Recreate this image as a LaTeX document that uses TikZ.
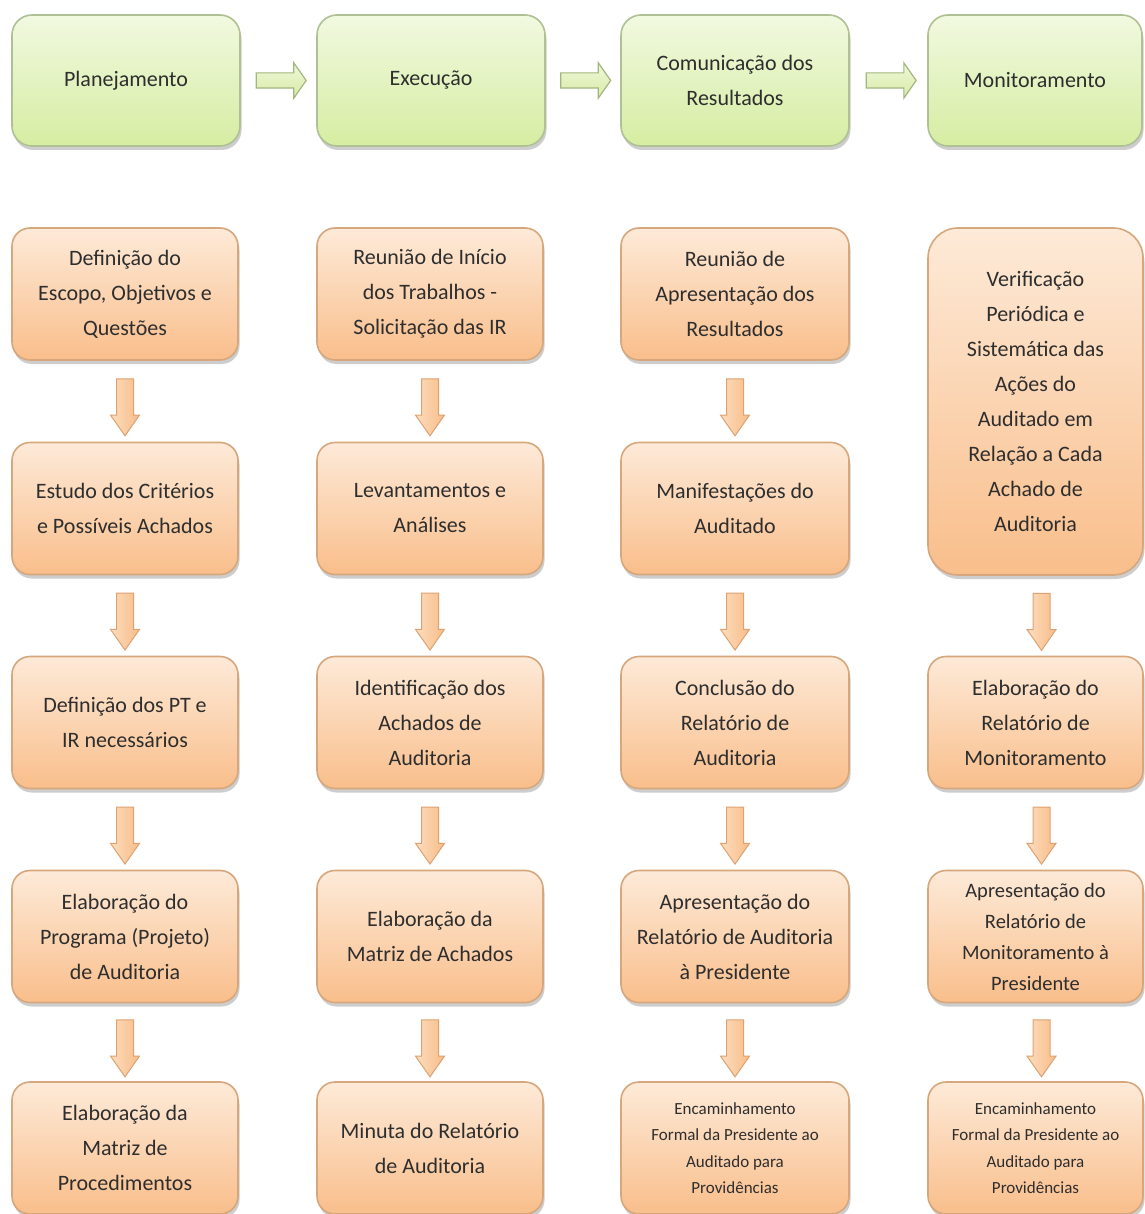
\documentclass[tikz,border=0pt]{standalone}
\usepackage{fontspec}
\setmainfont{Carlito}
\usetikzlibrary{shapes.arrows,shadows,calc}
\definecolor{hdrtop}{HTML}{F1F9E0}
\definecolor{hdrbot}{HTML}{D6EDA2}
\definecolor{hdrline}{HTML}{AFC094}
\definecolor{otop}{HTML}{FDEAD8}
\definecolor{obot}{HTML}{F9BE8B}
\definecolor{oline}{HTML}{D6A77C}
\definecolor{atop}{HTML}{FCDDBE}
\definecolor{abot}{HTML}{F8BC88}
\definecolor{aline}{HTML}{DDA272}
\definecolor{gtop}{HTML}{EEF7D8}
\definecolor{gbot}{HTML}{D8EBA8}
\definecolor{gline}{HTML}{A2B67E}
\definecolor{txt}{HTML}{2E2E2E}
\begin{document}
\begin{tikzpicture}[x=1pt,y=-1pt,
  shade/.style={drop shadow={shadow xshift=1.5pt,shadow yshift=-4pt,opacity=0.28,fill=black!70}},
  hdr/.style={shade,draw=hdrline,line width=1.6pt,rounded corners=20pt,top color=hdrtop,bottom color=hdrbot,
    text=txt,font=\fontsize{22}{35}\selectfont,align=center,inner sep=0pt,minimum height=131pt},
  obox/.style={shade,draw=oline,line width=1.6pt,rounded corners=18pt,top color=otop,bottom color=obot,
    text=txt,font=\fontsize{22}{35}\selectfont,align=center,inner sep=0pt,minimum height=132pt},
  smalltxt/.style={font=\fontsize{17}{26.5}\selectfont},
  midtxt/.style={font=\fontsize{20.5}{31}\selectfont},
  darrow/.style={single arrow,draw=aline,line width=1pt,left color=atop,right color=abot,
    rotate=-90,minimum height=57pt,inner xsep=0pt,inner ysep=8pt,
    single arrow head extend=6pt,single arrow tip angle=70},
  garrow/.style={single arrow,draw=gline,line width=1.2pt,top color=gtop,bottom color=gbot,
    minimum height=50pt,inner xsep=0pt,inner ysep=7pt,
    single arrow head extend=10pt,single arrow tip angle=110}
]
\fill[white] (0,0) rectangle (1144,1214);
\useasboundingbox (0,0) rectangle (1144,1214);

% headers
\node[hdr,minimum width=228pt] (h1) at (126,80.5) {Planejamento};
\node[hdr,minimum width=228pt] (h2) at (431,80.5) {Execução};
\node[hdr,minimum width=228pt] (h3) at (735,80.5) {Comunicação dos\\Resultados};
\node[hdr,minimum width=214pt] (h4) at (1035,80.5) {Monitoramento};

\node[garrow] (g1) at ($(h1.east)!0.5!(h2.west)$) {};
\node[garrow] (g2) at ($(h2.east)!0.5!(h3.west)$) {};
\node[garrow] (g3) at ($(h3.east)!0.5!(h4.west)$) {};

% column 1
\node[obox,minimum width=226pt] (c1r1) at (125,294) {Definição do\\Escopo, Objetivos e\\Questões};
\node[obox,minimum width=226pt] (c1r2) at (125,508.5) {Estudo dos Critérios\\e Possíveis Achados};
\node[obox,minimum width=226pt] (c1r3) at (125,722.5) {Definição dos PT e\\IR necessários};
\node[obox,minimum width=226pt] (c1r4) at (125,936.5) {Elaboração do\\Programa (Projeto)\\de Auditoria};
\node[obox,minimum width=226pt] (c1r5) at (125,1148) {Elaboração da\\Matriz de\\Procedimentos};

% column 2
\node[obox,minimum width=226pt] (c2r1) at (430,294) {Reunião de Início\\dos Trabalhos -\\Solicitação das IR};
\node[obox,minimum width=226pt] (c2r2) at (430,508.5) {Levantamentos e\\Análises};
\node[obox,minimum width=226pt] (c2r3) at (430,722.5) {Identificação dos\\Achados de\\Auditoria};
\node[obox,minimum width=226pt] (c2r4) at (430,936.5) {Elaboração da\\Matriz de Achados};
\node[obox,minimum width=226pt] (c2r5) at (430,1148) {Minuta do Relatório\\de Auditoria};

% column 3
\node[obox,minimum width=228pt] (c3r1) at (735,294) {Reunião de\\Apresentação dos\\Resultados};
\node[obox,minimum width=228pt] (c3r2) at (735,508.5) {Manifestações do\\Auditado};
\node[obox,minimum width=228pt] (c3r3) at (735,722.5) {Conclusão do\\Relatório de\\Auditoria};
\node[obox,minimum width=228pt] (c3r4) at (735,936.5) {Apresentação do\\Relatório de Auditoria\\à Presidente};
\node[obox,smalltxt,minimum width=228pt] (c3r5) at (735,1148) {Encaminhamento\\Formal da Presidente ao\\Auditado para\\Providências};

% column 4
\node[obox,minimum width=215pt,minimum height=347pt,rounded corners=30pt] (c4r1) at (1035.5,401.5) {Verificação\\Periódica e\\Sistemática das\\Ações do\\Auditado em\\Relação a Cada\\Achado de\\Auditoria};
\node[obox,minimum width=215pt] (c4r3) at (1035.5,722.5) {Elaboração do\\Relatório de\\Monitoramento};
\node[obox,midtxt,minimum width=215pt] (c4r4) at (1035.5,936.5) {Apresentação do\\Relatório de\\Monitoramento à\\Presidente};
\node[obox,smalltxt,minimum width=215pt] (c4r5) at (1035.5,1148) {Encaminhamento\\Formal da Presidente ao\\Auditado para\\Providências};

% down arrows
\foreach \c in {1,2,3}{
  \node[darrow] (a\c a) at ($(c\c r1.south)!0.5!(c\c r2.north)$) {};
  \node[darrow] (a\c b) at ($(c\c r2.south)!0.5!(c\c r3.north)$) {};
  \node[darrow] (a\c c) at ($(c\c r3.south)!0.5!(c\c r4.north)$) {};
  \node[darrow] (a\c d) at ($(c\c r4.south)!0.5!(c\c r5.north)$) {};
}
\node[darrow] (a4a) at ($(c4r1.south)!0.5!(c4r3.north)+(6,0)$) {};
\node[darrow] (a4c) at ($(c4r3.south)!0.5!(c4r4.north)+(6,0)$) {};
\node[darrow] (a4d) at ($(c4r4.south)!0.5!(c4r5.north)+(6,0)$) {};
\end{tikzpicture}
\end{document}
